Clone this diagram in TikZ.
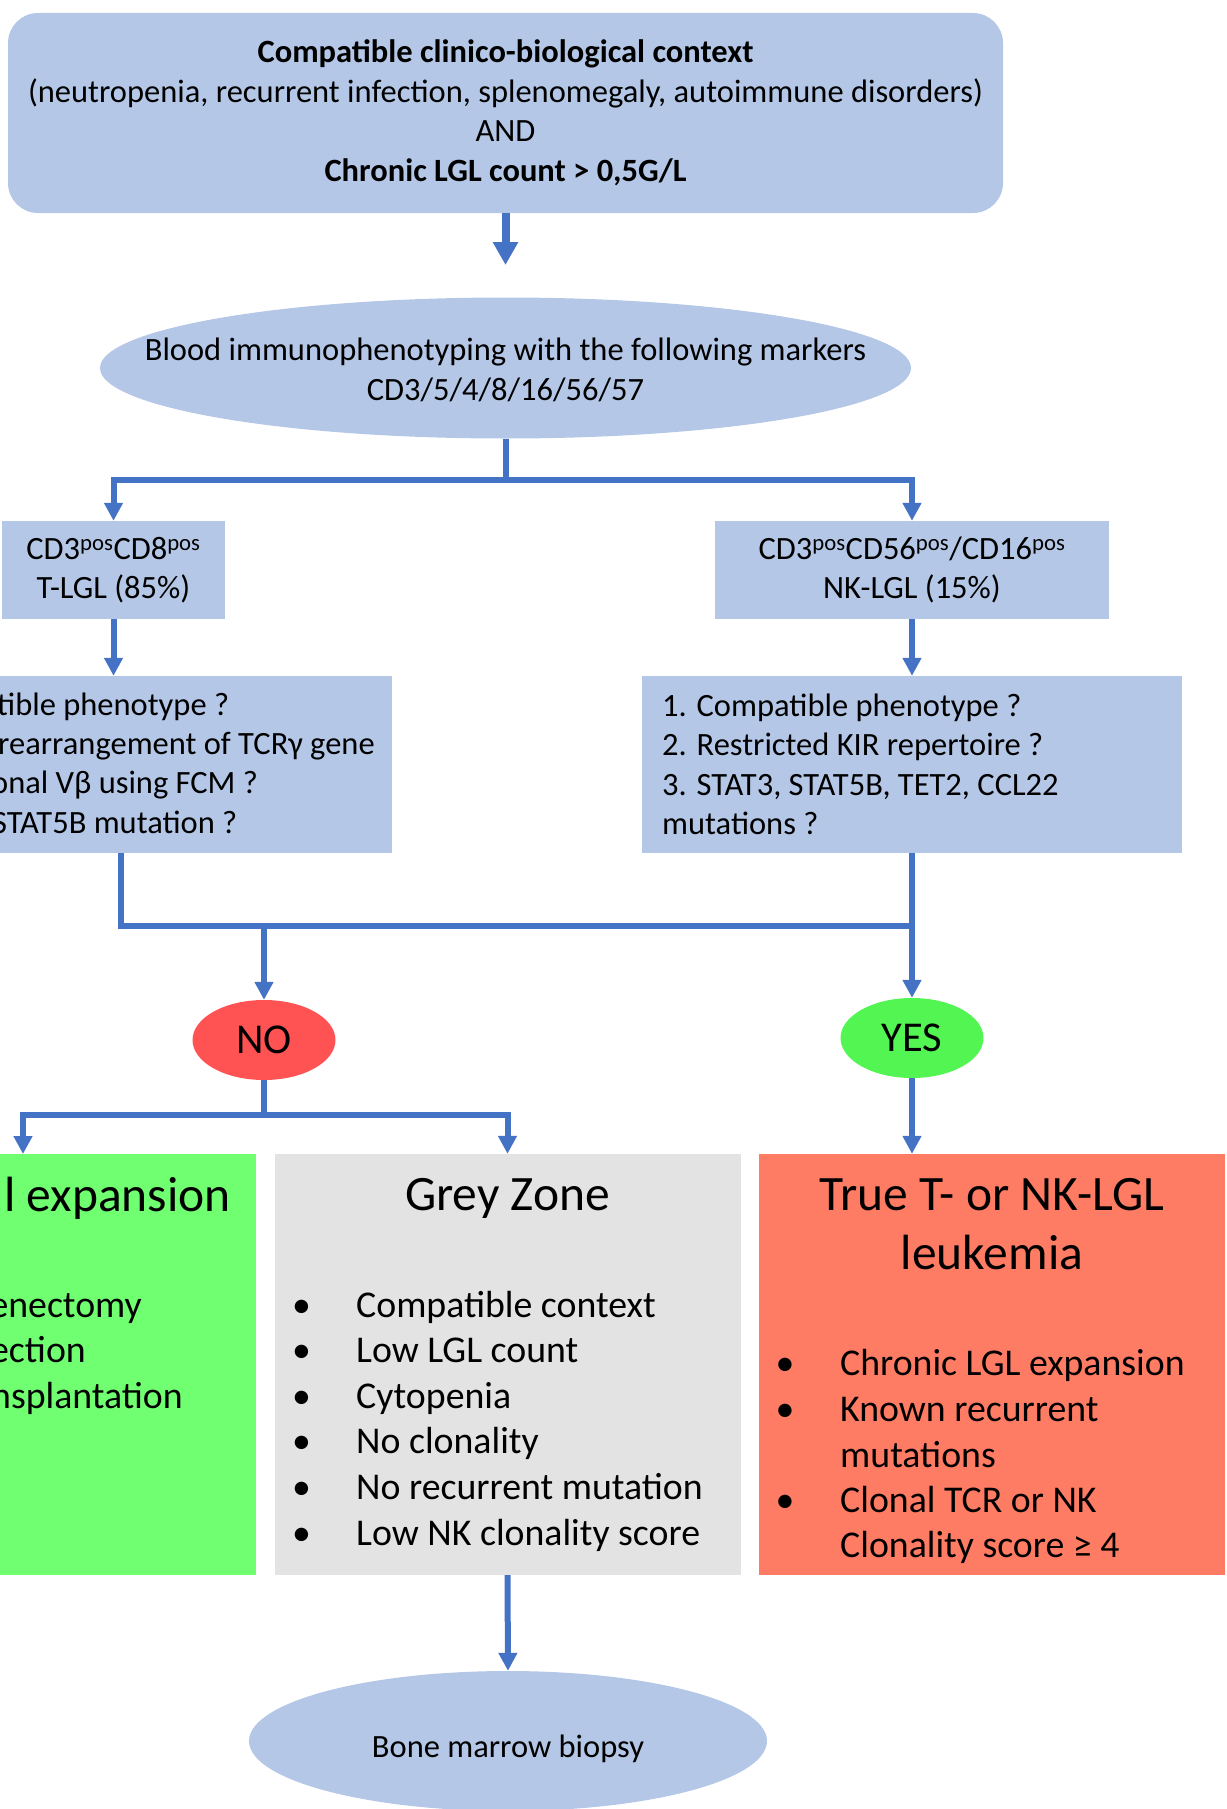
\documentclass[tikz,border=0pt]{standalone}
\usepackage{fontspec}
\setmainfont{Carlito}
\usetikzlibrary{arrows.meta}
\usetikzlibrary{shapes.geometric}
\definecolor{boxblue}{HTML}{B4C7E7}
\definecolor{linkblue}{HTML}{4472C4}
\definecolor{benigngreen}{HTML}{70FF70}
\definecolor{zonegrey}{HTML}{E3E3E3}
\definecolor{leukred}{HTML}{FF7C64}
\definecolor{nored}{HTML}{FF5252}
\definecolor{yesgreen}{HTML}{52F552}
\def\rw{466pt}
\def\rh{421pt}
\tikzset{
    lbl/.style = {
        inner sep=0pt, align=center, font=\fontsize{32.5}{39.5}\selectfont
    },
    block/.style = {
        lbl, rectangle, fill=boxblue
    },
    roundblock/.style = {
        block, rounded corners=30pt
    },
    oval/.style = {
        ellipse, fill=boxblue, inner sep=0pt
    },
    answer/.style = {
        ellipse, inner sep=0pt, minimum width=143pt, minimum height=80pt, font=\fontsize{42.5}{50}\selectfont
    },
    outcome/.style = {
        rectangle, inner sep=0pt, minimum width=\rw, minimum height=\rh
    },
    heading/.style = {
        inner sep=0pt, anchor=base, font=\fontsize{49.5}{59}\selectfont
    },
    entry/.style = {
        inner sep=0pt, anchor=base west, font=\fontsize{37.8}{45.6}\selectfont
    },
}
\tikzset{
    link/.style = {
        draw=linkblue, line width=6pt, -{Triangle[width=18pt,length=18pt]}
    },
    flow/.style = {
        draw=linkblue, line width=6pt
    },
    bigarrow/.style = {
        draw=linkblue, line width=8pt, -{Triangle[width=24pt,length=23pt]}
    },
}
\begin{document}
\begin{tikzpicture}[x=1pt, y=-1pt]
        \useasboundingbox (0,0) rectangle (1226,1809);
        \clip (0,0) rectangle (1226,1809);

        % Place the blocks
        \node[roundblock, minimum width=995pt, minimum height=200pt] (context) at (505.5,113)
            {\textbf{Compatible clinico-biological context}\\(neutropenia, recurrent infection, splenomegaly, autoimmune disorders)\\AND\\\textbf{Chronic LGL count > 0,5G/L}};
        \node[oval, minimum width=811pt, minimum height=141pt] (immuno) at (505.5,368) {};
        \node[lbl, yshift=-2pt] (immunotext) at (immuno.center) {Blood immunophenotyping with the following markers\\CD3/5/4/8/16/56/57};

        \node[block, minimum width=223pt, minimum height=98pt] (tlgl) at (113.5,570)
            {CD3\textsuperscript{pos}CD8\textsuperscript{pos}\\T-LGL (85\%)};
        \node[block, minimum width=394pt, minimum height=98pt] (nklgl) at (912,570)
            {CD3\textsuperscript{pos}CD56\textsuperscript{pos}/CD16\textsuperscript{pos}\\NK-LGL (15\%)};

        % Questions
        \node[block, minimum width=542pt, minimum height=177pt] (tquest) at (121,764.5) {};
        \node[lbl, anchor=base west] (tq-1) at (-3,715) {tible phenotype ?};
        \node[lbl, anchor=base west] (tq-2) at (-2,754) {rearrangement of TCRγ gene};
        \node[lbl, anchor=base west] (tq-3) at (-9,793) {onal Vβ using FCM ?};
        \node[lbl, anchor=base west] (tq-4) at (-8,833) {STAT5B mutation ?};
        \node[block, minimum width=540pt, minimum height=177pt] (nkquest) at (912,764.5) {};
        \node[lbl, align=left, anchor=west] (nkquesttext) at (662,764.5)
            {1. Compatible phenotype ?\\2. Restricted KIR repertoire ?\\3. STAT3, STAT5B, TET2, CCL22\\mutations ?};

        \node[answer, fill=nored] (no) at (264,1040) {NO};
        \node[answer, fill=yesgreen] (yes) at (912,1038) {YES};

        % Outcomes
        \node[outcome, fill=benigngreen, minimum width=486pt] (benign) at (13,1364.5) {};
        \node[heading, anchor=base east] (benign-title) at (231,1211) {l expansion};
        \node[entry, anchor=base east] (benign-1) at (142,1317) {enectomy};
        \node[entry, anchor=base east] (benign-2) at (86,1362) {ection};
        \node[entry, anchor=base east] (benign-3) at (183,1408) {nsplantation};

        \node[outcome, fill=zonegrey] (grey) at (507.5,1364.5) {};
        \node[heading] (grey-title) at (507.5,1210) {Grey Zone};
        \foreach \txt [count=\i] in {Compatible context, Low LGL count, Cytopenia, No clonality, No recurrent mutation, Low NK clonality score}{
            \node[entry, anchor=base] (grey-dot-\i) at ({301.5}, {1317+45.6*(\i-1)}) {\textbullet};
            \node[entry] (grey-\i) at ({356}, {1317+45.6*(\i-1)}) {\txt};
        }

        \node[outcome, fill=leukred] (leuk) at (992,1364.5) {};
        \node[heading] (leuk-title-1) at (992,1210) {True T- or NK-LGL};
        \node[heading] (leuk-title-2) at (992,1269) {leukemia};
        \foreach \y/\txt [count=\i] in {1375/Chronic LGL expansion, 1421/Known recurrent, 1467/mutations, 1512/Clonal TCR or NK, 1557/Clonality score ≥ 4}{
            \node[entry] (leuk-\i) at (840,\y) {\txt};
        }
        \foreach \y [count=\i] in {1375, 1421, 1512}{
            \node[entry, anchor=base] (leuk-dot-\i) at (785,\y) {\textbullet};
        }

        \node[oval, minimum width=518pt, minimum height=140pt] (bmb) at (508,1741) {};
        \node[lbl, yshift=-8pt] (bmbtext) at (bmb.center) {Bone marrow biopsy};

        % Draw connections
        \coordinate (immunotop) at (505.5,265);
        \coordinate (split) at (505.5,480);
        \coordinate (merge) at (912,925.5);
        \coordinate (fork) at (264,1115);
        \coordinate (benigntop) at (23,1154);

        \draw[bigarrow] (context.south) -- (immunotop);
        \draw[flow] (immuno.south) -- (split);
        \draw[link] (split) -| (tlgl.north);
        \draw[link] (split) -| (nklgl.north);
        \draw[link] (tlgl.south) -- (tlgl.south |- tquest.north);
        \draw[link] (nklgl.south) -- (nkquest.north);
        \draw[flow] (tquest.south) |- (merge);
        \draw[link] (nkquest.south) -- (yes.north);
        \draw[link] (no.north |- merge) -- (no.north);
        \draw[flow] (no.south) -- (fork);
        \draw[link] (fork) -| (benigntop);
        \draw[link] (fork) -| (grey.north);
        \draw[link] (yes.south) -- (yes.south |- leuk.north);
        \draw[link] (grey.south) -- (bmb.north);
\end{tikzpicture}
\end{document}
